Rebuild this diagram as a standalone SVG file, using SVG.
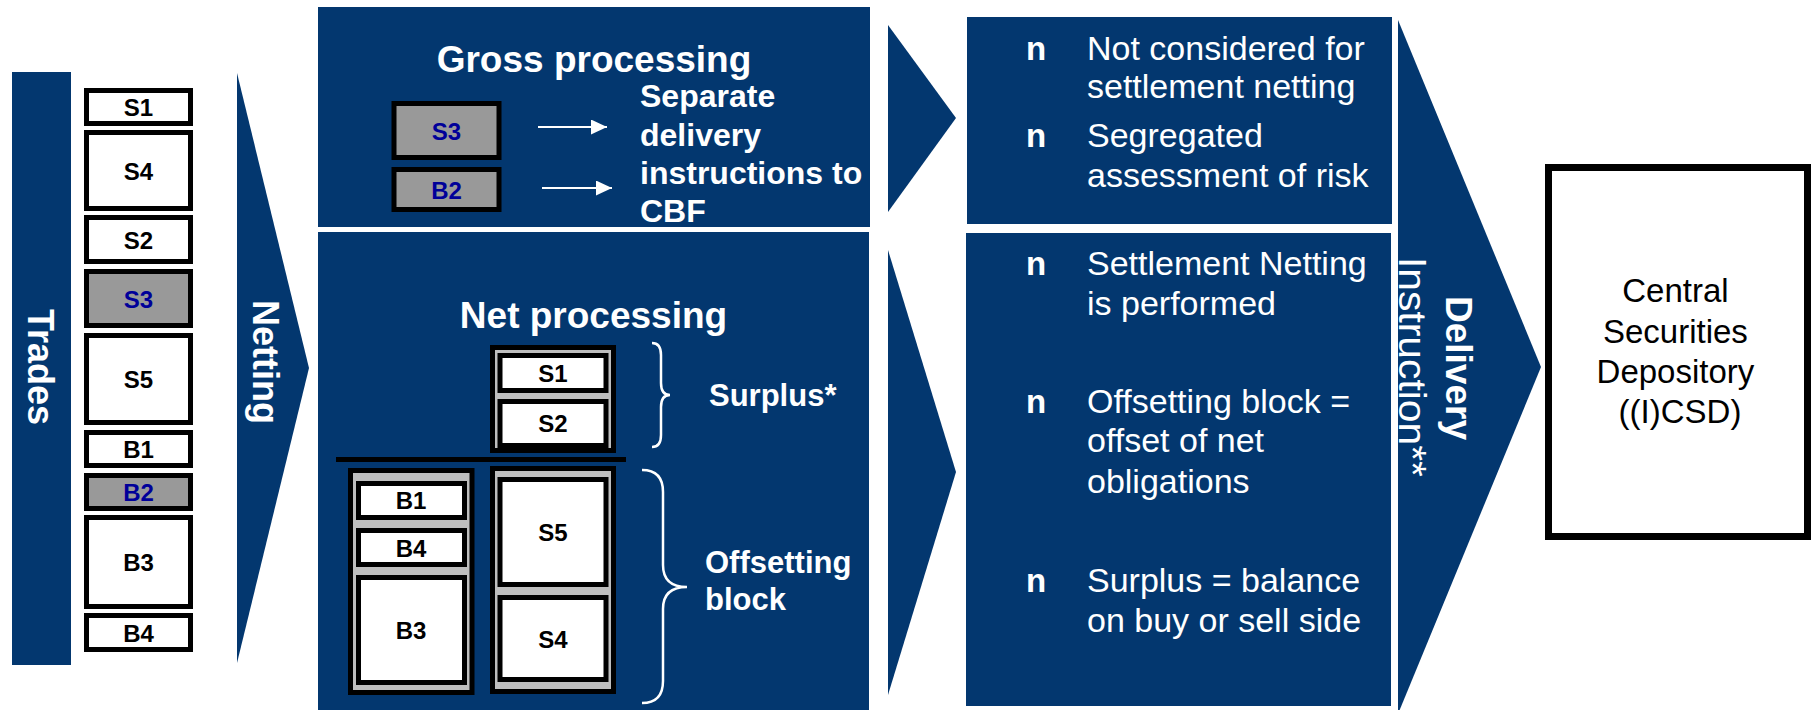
<svg xmlns="http://www.w3.org/2000/svg" width="1813" height="710" viewBox="0 0 1813 710">
  <style>
    .navy { fill: #03376F; }
    .lbl { font-family: 'Liberation Sans', Arial, sans-serif; }
    .wb { fill: #ffffff; font-weight: bold; }
    .box { fill: #ffffff; stroke: #000000; stroke-width: 5; }
    .gbox { fill: #999999; stroke: #000000; stroke-width: 5; }
    .stack { fill: #BEBEBE; stroke: #000000; stroke-width: 5; }
    .tid { font-family: 'Liberation Sans', Arial, sans-serif; font-size: 24px; font-weight: bold; text-anchor: middle; fill: #000000; }
    .tidb { fill: #000099; }
    .brace { fill: none; stroke: #ffffff; stroke-width: 2.5; }
    .bul { font-family: 'Liberation Sans', Arial, sans-serif; font-size: 33px; font-weight: bold; fill: #ffffff; }
    .pt { font-family: 'Liberation Sans', Arial, sans-serif; font-size: 34px; fill: #ffffff; }
  </style>
  <defs>
    <marker id="head" viewBox="0 0 16 15" refX="16" refY="7.5" markerWidth="16" markerHeight="15" markerUnits="userSpaceOnUse" orient="auto">
      <path d="M0,0 L16,7.5 L0,15 Z" fill="#ffffff"/>
    </marker>
  </defs>

  <rect width="1813" height="710" fill="#ffffff"/>

  <!-- Trades bar -->
  <g id="trades">
    <rect class="navy" x="12" y="72" width="59" height="593"/>
    <text class="lbl wb" font-size="36" text-anchor="middle" transform="translate(28,367) rotate(90)">Trades</text>
  </g>

  <!-- Individual trades -->
  <g id="trade-list">
    <g id="t-s1"><rect class="box" x="86.5" y="90.5" width="104" height="33"/><text class="tid" x="138.5" y="116">S1</text></g>
    <g id="t-s4"><rect class="box" x="86.5" y="132.5" width="104" height="76"/><text class="tid" x="138.5" y="179.5">S4</text></g>
    <g id="t-s2"><rect class="box" x="86.5" y="217.5" width="104" height="44"/><text class="tid" x="138.5" y="248.5">S2</text></g>
    <g id="t-s3"><rect class="gbox" x="86.5" y="271.5" width="104" height="54"/><text class="tid tidb" x="138.5" y="307.5">S3</text></g>
    <g id="t-s5"><rect class="box" x="86.5" y="335.5" width="104" height="87"/><text class="tid" x="138.5" y="388">S5</text></g>
    <g id="t-b1"><rect class="box" x="86.5" y="432.5" width="104" height="33"/><text class="tid" x="138.5" y="458">B1</text></g>
    <g id="t-b2"><rect class="gbox" x="86.5" y="475.5" width="104" height="33"/><text class="tid tidb" x="138.5" y="501">B2</text></g>
    <g id="t-b3"><rect class="box" x="86.5" y="517.5" width="104" height="89"/><text class="tid" x="138.5" y="571">B3</text></g>
    <g id="t-b4"><rect class="box" x="86.5" y="615.5" width="104" height="34"/><text class="tid" x="138.5" y="641.5">B4</text></g>
  </g>

  <!-- Gross processing -->
  <g id="gross">
    <rect class="navy" x="318" y="7" width="552" height="220"/>
    <text class="lbl wb" font-size="37" x="594" y="72" text-anchor="middle">Gross processing</text>
    <g id="g-s3"><rect class="gbox" x="394" y="103.5" width="105" height="54"/><text class="tid tidb" x="446.5" y="140">S3</text></g>
    <g id="g-b2"><rect class="gbox" x="394" y="169.5" width="105" height="40"/><text class="tid tidb" x="446.5" y="198.5">B2</text></g>
    <text class="lbl wb" font-size="32">
      <tspan x="640" y="107">Separate</tspan>
      <tspan x="640" y="146">delivery</tspan>
      <tspan x="640" y="184">instructions to</tspan>
      <tspan x="640" y="222">CBF</tspan>
    </text>
  </g>

  <!-- Net processing -->
  <g id="net">
    <rect class="navy" x="318" y="232" width="551" height="478"/>
    <text class="lbl wb" font-size="37" x="593.5" y="328" text-anchor="middle">Net processing</text>

    <g id="surplus-stack">
      <rect class="stack" x="492.5" y="347.5" width="121" height="103"/>
      <rect class="box" x="500" y="355.5" width="106" height="35"/><text class="tid" x="553" y="382">S1</text>
      <rect class="box" x="500" y="401.5" width="106" height="44"/><text class="tid" x="553" y="432">S2</text>
    </g>

    <line x1="336" y1="459.5" x2="626" y2="459.5" stroke="#000000" stroke-width="5"/>

    <g id="buy-stack">
      <rect class="stack" x="350.5" y="470.5" width="121.5" height="222"/>
      <rect class="box" x="358.5" y="483.5" width="106" height="34"/><text class="tid" x="411" y="509">B1</text>
      <rect class="box" x="358.5" y="530.5" width="106" height="34"/><text class="tid" x="411" y="556.5">B4</text>
      <rect class="box" x="358.5" y="577.5" width="106" height="105"/><text class="tid" x="411" y="638.5">B3</text>
    </g>

    <g id="sell-stack">
      <rect class="stack" x="492.5" y="468.5" width="121" height="223"/>
      <rect class="box" x="500" y="479.5" width="106" height="105"/><text class="tid" x="553" y="541">S5</text>
      <rect class="box" x="500" y="597.5" width="106" height="82"/><text class="tid" x="553" y="647.5">S4</text>
    </g>

    <path class="brace" d="M652,343 Q661,343 661,355 L661,383 Q661,395 670,395 Q661,395 661,407 L661,435 Q661,447 652,447"/>
    <text class="lbl wb" font-size="31" x="709" y="406">Surplus*</text>

    <path class="brace" d="M642,470 Q663,470 663,492 L663,565 Q663,587 687,587 Q663,587 663,609 L663,681 Q663,703 642,703"/>
    <text class="lbl wb" font-size="31">
      <tspan x="705" y="573">Offsetting</tspan>
      <tspan x="705" y="610">block</tspan>
    </text>
  </g>

  <!-- Gross notes -->
  <g id="gross-notes">
    <rect class="navy" x="967" y="17" width="425" height="207"/>
    <text class="bul" x="1026" y="60">n</text>
    <text class="pt"><tspan x="1087" y="60">Not considered for</tspan><tspan x="1087" y="98">settlement netting</tspan></text>
    <text class="bul" x="1026" y="147">n</text>
    <text class="pt"><tspan x="1087" y="147">Segregated</tspan><tspan x="1087" y="187">assessment of risk</tspan></text>
  </g>

  <!-- Net notes -->
  <g id="net-notes">
    <rect class="navy" x="966" y="233" width="425" height="473"/>
    <text class="bul" x="1026" y="275">n</text>
    <text class="pt"><tspan x="1087" y="275">Settlement Netting</tspan><tspan x="1087" y="315">is performed</tspan></text>
    <text class="bul" x="1026" y="413">n</text>
    <text class="pt"><tspan x="1087" y="413">Offsetting block =</tspan><tspan x="1087" y="452">offset of net</tspan><tspan x="1087" y="493">obligations</tspan></text>
    <text class="bul" x="1026" y="592">n</text>
    <text class="pt"><tspan x="1087" y="592">Surplus = balance</tspan><tspan x="1087" y="632">on buy or sell side</tspan></text>
  </g>

  <!-- Depository -->
  <g id="csd">
    <rect x="1548.5" y="167.5" width="259" height="369" fill="#ffffff" stroke="#000000" stroke-width="7"/>
    <text class="lbl" font-size="33" fill="#000000" text-anchor="middle">
      <tspan x="1680" y="302">Central</tspan>
      <tspan x="1680" y="343">Securities</tspan>
      <tspan x="1680" y="383">Depository</tspan>
      <tspan x="1680" y="423">((I)CSD)</tspan>
    </text>
  </g>

  <!-- Flow arrows / chevrons -->
  <g id="connectors">
    <polygon id="netting-arrow" class="navy" points="237,73 309,368 237,663"/>
    <polygon id="gross-out" class="navy" points="888,25 956,118 888,212"/>
    <polygon id="net-out" class="navy" points="888,250 956,472 888,695"/>
    <polygon id="delivery-arrow" class="navy" points="1398,20 1541,367 1398,714"/>
    <line x1="538" y1="127" x2="607" y2="127" stroke="#ffffff" stroke-width="2" marker-end="url(#head)"/>
    <line x1="542" y1="188" x2="612" y2="188" stroke="#ffffff" stroke-width="2" marker-end="url(#head)"/>
  </g>

  <!-- Chevron captions -->
  <g id="netting-label">
    <text class="lbl wb" font-size="36" text-anchor="middle" transform="translate(253,362) rotate(90)">Netting</text>
  </g>
  <g id="delivery-label">
    <text class="lbl wb" font-size="37" text-anchor="middle" transform="translate(1446,368) rotate(90)">Delivery</text>
    <text class="lbl" font-size="38" fill="#ffffff" text-anchor="middle" textLength="220" lengthAdjust="spacingAndGlyphs" transform="translate(1399,367) rotate(90)">Instruction**</text>
  </g>
</svg>
